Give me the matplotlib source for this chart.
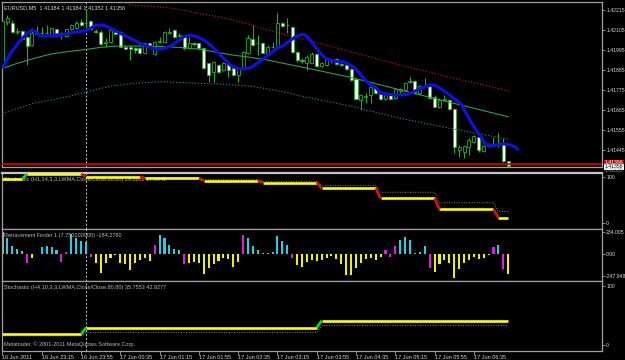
import matplotlib
matplotlib.use('Agg')
import matplotlib.pyplot as plt
import numpy as np

plt.rcParams['font.family'] = ['Liberation Sans', 'DejaVu Sans']

W, H = 625, 360
FS = 4.0
FS_R = 3.7
TXT = '#d8d8d8'
EDGE = '#a0a0a0'
CANDLE = '#22b022'

# EURUSD M5 bars, first bar 16 Jun 22:35
opens = [1.41912, 1.42151, 1.42145, 1.42096, 1.42099, 1.42065, 1.42022, 1.42081, 1.42087, 1.42087,
         1.42077, 1.42109, 1.42087, 1.42072, 1.42109, 1.42118, 1.42149, 1.42142, 1.42156, 1.42101,
         1.42096, 1.42035, 1.42041, 1.42096, 1.42096, 1.42013, 1.42010, 1.42004, 1.42004, 1.41977,
         1.42032, 1.41971, 1.42041, 1.42041, 1.42087, 1.42105, 1.42072, 1.42072, 1.42004, 1.42032,
         1.42032, 1.42004, 1.41922, 1.41876, 1.41912, 1.41885, 1.41922, 1.41894, 1.41858, 1.41894,
         1.41977, 1.42054, 1.42032, 1.42035, 1.41977, 1.42013, 1.42013, 1.42145, 1.42132, 1.42123,
         1.41986, 1.41940, 1.41925, 1.41925, 1.41973, 1.41907, 1.41912, 1.41935, 1.41944, 1.41918,
         1.41912, 1.41889, 1.41834, 1.41720, 1.41738, 1.41748, 1.41790, 1.41757, 1.41724, 1.41749,
         1.41729, 1.41771, 1.41775, 1.41821, 1.41825, 1.41757, 1.41797, 1.41797, 1.41738, 1.41680,
         1.41720, 1.41720, 1.41669, 1.41445, 1.41436, 1.41463, 1.41491, 1.41518, 1.41441, 1.41469,
         1.41476, 1.41478, 1.41482, 1.41384]
highs = [1.42178, 1.42187, 1.42160, 1.42114, 1.42105, 1.42072, 1.42114, 1.42127, 1.42123, 1.42132,
         1.42118, 1.42112, 1.42096, 1.42112, 1.42138, 1.42156, 1.42164, 1.42215, 1.42160, 1.42109,
         1.42105, 1.42059, 1.42109, 1.42101, 1.42099, 1.42022, 1.42022, 1.42013, 1.42010, 1.42035,
         1.42035, 1.42046, 1.42068, 1.42101, 1.42114, 1.42109, 1.42087, 1.42077, 1.42068, 1.42041,
         1.42035, 1.42008, 1.41925, 1.41936, 1.41918, 1.41931, 1.41927, 1.41900, 1.41903, 1.41991,
         1.42077, 1.42132, 1.42077, 1.42041, 1.42022, 1.42041, 1.42200, 1.42151, 1.42169, 1.42127,
         1.41991, 1.41949, 1.41967, 1.41986, 1.41980, 1.41931, 1.41949, 1.41944, 1.41949, 1.41925,
         1.41918, 1.41894, 1.41839, 1.41751, 1.41757, 1.41797, 1.41797, 1.41760, 1.41766, 1.41753,
         1.41784, 1.41784, 1.41821, 1.41848, 1.41830, 1.41803, 1.41839, 1.41803, 1.41748, 1.41729,
         1.41748, 1.41726, 1.41674, 1.41472, 1.41472, 1.41509, 1.41527, 1.41524, 1.41472, 1.41482,
         1.41518, 1.41540, 1.41509, 1.41384]
lows = [1.41903, 1.42132, 1.42090, 1.42083, 1.42050, 1.41912, 1.42017, 1.42077, 1.42076, 1.42083,
        1.42074, 1.42083, 1.42054, 1.42068, 1.42105, 1.42112, 1.42127, 1.42105, 1.42105, 1.42087,
        1.42022, 1.42013, 1.42035, 1.42079, 1.42010, 1.41999, 1.41940, 1.41980, 1.41973, 1.41973,
        1.42013, 1.41967, 1.42035, 1.42037, 1.42081, 1.42061, 1.42065, 1.41995, 1.42000, 1.42019,
        1.41999, 1.41889, 1.41821, 1.41821, 1.41870, 1.41880, 1.41848, 1.41852, 1.41821, 1.41889,
        1.41973, 1.42017, 1.41967, 1.41977, 1.41971, 1.42004, 1.42010, 1.42123, 1.42087, 1.41980,
        1.41931, 1.41922, 1.41885, 1.41922, 1.41900, 1.41900, 1.41907, 1.41922, 1.41912, 1.41909,
        1.41885, 1.41826, 1.41720, 1.41665, 1.41702, 1.41702, 1.41751, 1.41720, 1.41720, 1.41720,
        1.41724, 1.41760, 1.41771, 1.41815, 1.41753, 1.41751, 1.41790, 1.41724, 1.41680, 1.41674,
        1.41714, 1.41665, 1.41427, 1.41408, 1.41399, 1.41418, 1.41485, 1.41436, 1.41436, 1.41463,
        1.41469, 1.41463, 1.41381, 1.41352]
closes = [1.42156, 1.42169, 1.42096, 1.42101, 1.42054, 1.42017, 1.42087, 1.42092, 1.42089, 1.42090,
          1.42114, 1.42087, 1.42079, 1.42109, 1.42132, 1.42145, 1.42134, 1.42145, 1.42109, 1.42094,
          1.42028, 1.42037, 1.42105, 1.42083, 1.42013, 1.42002, 1.41999, 1.41995, 1.41977, 1.42032,
          1.42022, 1.42041, 1.42043, 1.42096, 1.42096, 1.42065, 1.42077, 1.42004, 1.42035, 1.42028,
          1.42004, 1.41894, 1.41858, 1.41931, 1.41876, 1.41922, 1.41885, 1.41858, 1.41894, 1.41986,
          1.42059, 1.42022, 1.42035, 1.41980, 1.42013, 1.42011, 1.42142, 1.42127, 1.42131, 1.41986,
          1.41940, 1.41933, 1.41958, 1.41973, 1.41907, 1.41922, 1.41944, 1.41933, 1.41916, 1.41914,
          1.41889, 1.41830, 1.41724, 1.41748, 1.41742, 1.41790, 1.41757, 1.41724, 1.41760, 1.41724,
          1.41779, 1.41779, 1.41815, 1.41825, 1.41757, 1.41797, 1.41795, 1.41729, 1.41683, 1.41720,
          1.41724, 1.41669, 1.41463, 1.41463, 1.41467, 1.41500, 1.41522, 1.41445, 1.41469, 1.41471,
          1.41478, 1.41476, 1.41384, 1.41356]

# blue moving average (bar, price)
ma_bar = [0, 1.6, 3.7, 5.0, 6.0, 6.7, 7.7, 9.8, 11.8, 13.2, 15.2, 16.9, 17.9, 18.9, 20.6, 22.0, 23.4,
          24.7, 26.1, 27.4, 28.8, 30.1, 31.5, 32.9, 34.2, 35.6, 36.9, 38.3, 39.7, 41.0, 42.4, 43.7,
          45.1, 46.4, 47.8, 49.1, 50.5, 51.9, 53.2, 54.6, 55.9, 57.3, 58.7, 60.0, 61.0, 61.7, 62.7,
          63.7, 64.8, 65.8, 66.8, 68.2, 69.5, 70.9, 72.2, 73.6, 74.9, 76.0, 77.0, 78.3, 79.7, 81.1,
          82.4, 83.8, 85.1, 86.5, 87.8, 89.2, 90.6, 91.9, 93.3, 94.6, 96.0, 97.4, 98.4, 99.7, 101.4,
          102.3, 103.5, 104.5, 105.1]
ma_val = [1.41894, 1.41977, 1.42050, 1.42087, 1.42105, 1.42096, 1.42072, 1.42072, 1.42077, 1.42087,
          1.42096, 1.42101, 1.42114, 1.42132, 1.42132, 1.42114, 1.42096, 1.42077, 1.42059, 1.42041,
          1.42022, 1.42010, 1.41999, 1.42004, 1.42017, 1.42041, 1.42068, 1.42077, 1.42068, 1.42050,
          1.42022, 1.41986, 1.41949, 1.41912, 1.41894, 1.41891, 1.41898, 1.41922, 1.41949, 1.41977,
          1.42004, 1.42022, 1.42050, 1.42072, 1.42083, 1.42077, 1.42050, 1.42013, 1.41977, 1.41949,
          1.41940, 1.41931, 1.41931, 1.41912, 1.41885, 1.41839, 1.41803, 1.41790, 1.41757, 1.41753,
          1.41748, 1.41748, 1.41751, 1.41766, 1.41784, 1.41797, 1.41803, 1.41784, 1.41757, 1.41729,
          1.41702, 1.41638, 1.41573, 1.41518, 1.41478, 1.41467, 1.41478, 1.41478, 1.41473, 1.41460,
          1.41445]

# channel: middle (solid green), upper (red dots), lower (teal dots)
mid_bar = [0, 3.0, 6.4, 9.8, 13.2, 17.2, 20.0, 23.4, 26.7, 30.1, 33.6, 36.9, 40.3, 43.8, 47.0, 50.5,
           54.0, 57.2, 60.7, 70.9, 81.1, 91.2, 103.0]
mid_val = [1.41894, 1.41922, 1.41949, 1.41973, 1.41986, 1.41999, 1.42010, 1.42017, 1.42017, 1.42017,
           1.42013, 1.42008, 1.41999, 1.41982, 1.41967, 1.41955, 1.41940, 1.41922, 1.41903, 1.41845,
           1.41775, 1.41707, 1.41628]
up_bar = [24.5, 26.7, 30.1, 33.6, 37.0, 40.3, 43.7, 47.0, 50.5, 54.0, 57.2, 60.7, 70.9, 81.1, 91.2, 103.1]
up_val = [1.42255, 1.42240, 1.42237, 1.42228, 1.42215, 1.42195, 1.42180, 1.42160, 1.42135, 1.42105,
          1.42083, 1.42059, 1.41986, 1.41912, 1.41845, 1.41771]
lo_bar = [0, 6.3, 13.2, 17.3, 22.0, 26.7, 32.2, 37.7, 43.8, 50.5, 57.2, 60.7, 64.8, 70.9, 81.1, 91.2, 103.1]
lo_val = [1.41647, 1.41702, 1.41738, 1.41766, 1.41797, 1.41812, 1.41821, 1.41815, 1.41808, 1.41797,
          1.41766, 1.41742, 1.41720, 1.41687, 1.41619, 1.41564, 1.41504]

hline_price = 1.41366
bid_price = 1.41356
price_ticks = [1.42215, 1.42105, 1.41995, 1.41885, 1.41775, 1.41665, 1.41555, 1.41445]

# Stochastic H1: first M5 bar of each hour, main and signal
h1_start = [0, 5, 17, 29, 41, 53, 65, 77, 89, 101]
h1_main = [90.3, 99.6, 94.5, 91.6, 87.1, 83.7, 72.9, 54.3, 33.8, 17.88]
h1_sig = [88.0, 100.0, 95.5, 93.0, 89.0, 85.5, 77.8, 65.5, 46.1, 29.52]

# Retracement Finder histogram (c = up, y = down, m = turn)
retr = [202, 146, 68, 47, 22, -87, -40, 3, 59, 68, 59, 37, -71, 16, 183, 146, 115, 109, -25, -87,
        -174, -87, -40, -9, -87, -96, -149, -87, -56, -34, -62, 78, 177, 146, 78, 47, 37, -96, -87, -71,
        -87, -190, -127, -96, -65, -34, -50, -118, -71, 177, 146, 68, 37, 12, 5, 16, 161, 115, 78, -40,
        -102, -118, -71, -56, -65, -56, -40, -16, -47, -96, -196, -196, -134, -81, -47, -40, -56, -31, 37, -31,
        68, 124, 155, 130, 6, 16, 68, -127, -165, -96, -56, -87, -221, -143, -87, -56, -31, -50, -40, -9,
        59, 84, -143, -184]
retr_kind = list('c' * 5 + 'mym' + 'c' * 4 + 'mm' + 'c' * 4 + 'm' + 'y' * 12 + 'm' + 'c' * 5 + 'm'
                 + 'y' * 11 + 'm' + 'c' * 9 + 'm' + 'y' * 18 + 'mmm' + 'c' * 6 + 'm' + 'y' * 12
                 + 'mcmy')

# Stochastic H4
h4_start = [0, 17, 65]
h4_main = [23.4, 32.9, 42.93]
h4_sig = [21.0, 25.7, 35.76]

time_pos = [0, 8, 16, 24, 32, 40, 48, 56, 64, 72, 80, 88, 96]
time_lab = ['16 Jun 2011', '16 Jun 23:15', '16 Jun 23:55', '17 Jun 00:35', '17 Jun 01:15',
            '17 Jun 01:55', '17 Jun 02:35', '17 Jun 03:15', '17 Jun 03:55', '17 Jun 04:35',
            '17 Jun 05:15', '17 Jun 05:55', '17 Jun 06:35']
sep_bar = 17   # 17 Jun 00:00


fig = plt.figure(figsize=(W / 100, H / 100), dpi=100, facecolor='black')


def panel(top, bottom):
    ax = fig.add_axes([2 / W, 1 - bottom / H, 600 / W, (bottom - top) / H])
    ax.set_facecolor('black')
    for s in ax.spines.values():
        s.set_color(EDGE)
        s.set_linewidth(0.9)
    ax.set_xlim(-0.1, 122.1)
    ax.yaxis.tick_right()
    ax.tick_params(axis='y', direction='out', length=2, width=0.6, pad=1,
                   labelsize=FS_R, colors=EDGE, labelcolor=TXT)
    ax.tick_params(axis='x', bottom=False, labelbottom=False)
    ax.axvline(sep_bar, color='#c8c8c8', lw=0.7, ls=(0, (2, 2)))
    return ax


n = len(opens)
x = np.arange(n)
o = np.array(opens)
c = np.array(closes)

# main chart
ax = panel(1.7, 167.3)
ax.set_ylim(1.41350, 1.42261)
ax.vlines(x, lows, highs, color=CANDLE, lw=0.8, zorder=2)
lo_b = np.minimum(o, c)
hi_b = np.maximum(o, c)
ax.bar(x, np.maximum(hi_b - lo_b, 0.000012), bottom=lo_b, width=0.62,
       color=np.where(c < o, 'white', 'black'), edgecolor=CANDLE, linewidth=0.6, zorder=3)
ax.plot(mid_bar, mid_val, color='#2e9e48', lw=0.8, zorder=4)
ax.plot(up_bar, up_val, color='#b81818', lw=0.8, ls=(0, (1.2, 1.6)), zorder=4)
ax.plot(lo_bar, lo_val, color='#2a7c7c', lw=0.8, ls=(0, (1.2, 1.6)), zorder=4)
ax.plot(ma_bar, ma_val, color='#1010e0', lw=2.3, zorder=5, solid_capstyle='butt')
ax.axhline(hline_price, color='#d40000', lw=1.3, zorder=6)
ax.set_yticks(price_ticks)
ax.set_yticklabels(['%.5f' % p for p in price_ticks])
ax.text(0.004, 0.965, 'EURUSD,M5  1.41384 1.41384 1.41352 1.41356', transform=ax.transAxes,
        color=TXT, fontsize=FS, va='center', ha='left', zorder=8)
fig.text(605 / W, 1 - 162.8 / H, '%.5f' % hline_price, color='white', fontsize=FS_R, va='center',
         bbox=dict(facecolor='#d40000', edgecolor='none', pad=0.4))
fig.text(605 / W, 1 - 166.8 / H, '%.5f' % bid_price, color='black', fontsize=FS_R, va='center',
         bbox=dict(facecolor='white', edgecolor='none', pad=0.4))
fig.text(605 / W, 1 - 171.0 / H, '1.41335', color='#9a9a9a', fontsize=FS_R, va='center')


def stepped(ax, starts, main, sig, last):
    ends = [s - 1 for s in starts[1:]] + [last]
    sx, sy = [], []
    for s, e, v in zip(starts, ends, sig):
        sx += [s, e]
        sy += [v, v]
    ax.plot(sx, sy, color='#8c8c8c', lw=0.7, ls=(0, (1, 1.6)), zorder=2)
    for k, (s, e, v) in enumerate(zip(starts, ends, main)):
        ax.plot([s, e], [v, v], color='#ffff00', lw=1.9, zorder=3, solid_capstyle='butt')
        if k + 1 < len(starts):
            nv = main[k + 1]
            col = '#10e010' if nv > v else '#e01010'
            ax.plot([e, starts[k + 1]], [v, nv], color=col, lw=1.9, zorder=4,
                    solid_capstyle='butt')


# Stochastic H1
ax1 = panel(172.7, 228.5)
ax1.spines['top'].set_color('#c4c4c4')
ax1.spines['top'].set_linewidth(1.6)
ax1.set_ylim(-2, 102)
stepped(ax1, h1_start, h1_main, h1_sig, n - 1)
ax1.set_yticks([94, 8.2])
ax1.set_yticklabels(['100', '0'])
ax1.text(0.004, 0.885, 'Stochastic (H1,14,3,3,LWMA,Close/Close,80,80) 29.5202 17.8842',
         transform=ax1.transAxes, color='#b8b8b8', fontsize=FS, va='center', zorder=1)

# Retracement Finder
ax2 = panel(228.5, 280.7)
ax2.set_ylim(-247.948, 234.005)
cmap = {'c': '#1ed2ea', 'y': '#f2f200', 'm': '#e01ee0'}
ax2.bar(x, retr, width=0.42, color=[cmap[k] for k in retr_kind], zorder=2)
ax2.set_yticks([202, 0, -205])
ax2.set_yticklabels(['234.005', '0.00', '-247.948'])
ax2.text(0.004, 0.87, 'Retracement Finder 1 (7.750000000) -184.2760', transform=ax2.transAxes,
         color='#b8b8b8', fontsize=FS, va='center', zorder=3)

# Stochastic H4
ax3 = panel(281, 350.5)
ax3.set_ylim(0, 100)
stepped(ax3, h4_start, h4_main, h4_sig, n - 1)
ax3.set_yticks([92.8, 7.9])
ax3.set_yticklabels(['100', '0'])
ax3.text(0.004, 0.9, 'Stochastic (H4,10,3,3,LWMA,Close/Close,80,80) 35.7553 42.9277',
         transform=ax3.transAxes, color='#b8b8b8', fontsize=FS, va='center')
ax3.text(0.004, 0.09, 'Metatrader, \u00a9 2001-2011 MetaQuotes Software Corp.',
         transform=ax3.transAxes, color='#b8b8b8', fontsize=FS, va='center')
ax3.tick_params(axis='x', bottom=True, labelbottom=True, direction='out', length=3, width=0.6,
                pad=0.5, labelsize=FS, colors=EDGE, labelcolor=TXT)
ax3.set_xticks(time_pos)
ax3.set_xticklabels(time_lab)
for lab in ax3.get_xticklabels():
    lab.set_ha('left')

fig.savefig('out.png', dpi=100, facecolor='black')
